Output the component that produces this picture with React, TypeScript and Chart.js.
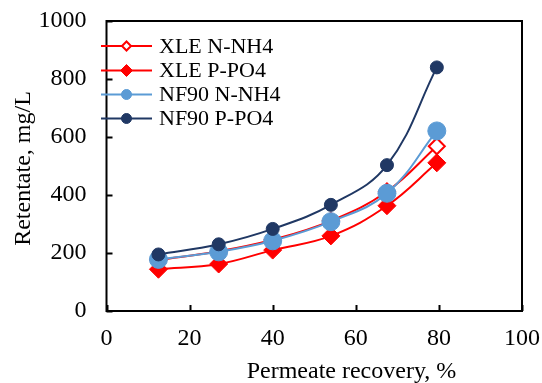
import React, { useEffect, useRef } from 'react';
import { Chart, registerables } from 'chart.js';

Chart.register(...registerables);

// ---- data ----
const recovery = [12.5, 27, 40, 54, 67.5, 79.5];
const xleNNH4 = [176, 206, 246, 311, 412, 568];
const xlePPO4 = [144, 162, 210, 259, 363, 511];
const nf90NNH4 = [178, 204, 242, 308, 406, 621];
const nf90PPO4 = [195, 230, 283, 366, 503, 840];
const seriesLabels = ['XLE N-NH4', 'XLE P-PO4', 'NF90 N-NH4', 'NF90 P-PO4'];
const xTicks = [0, 20, 40, 60, 80, 100];
const yTicks = [0, 200, 400, 600, 800, 1000];
const xTitle = 'Permeate recovery, %';
const yTitle = 'Retentate, mg/L';

const FONT = '"Liberation Serif", "Times New Roman", serif';
const RED = '#FF0000';
const LIGHT = '#5B9BD5';
const DARK = '#203864';

type Marker = { shape: 'diamond' | 'circle'; fill: string; stroke: string; r: number; lr: number; lw: number };
const markers: Marker[] = [
  { shape: 'diamond', fill: '#FFFFFF', stroke: RED, r: 8, lr: 4.5, lw: 2 },
  { shape: 'diamond', fill: RED, stroke: RED, r: 9, lr: 6, lw: 1 },
  { shape: 'circle', fill: LIGHT, stroke: LIGHT, r: 9, lr: 5, lw: 1 },
  { shape: 'circle', fill: DARK, stroke: DARK, r: 6.5, lr: 5, lw: 1 },
];
const lineColors = [RED, RED, LIGHT, DARK];

function drawMarker(ctx: CanvasRenderingContext2D, m: Marker, x: number, y: number, r: number) {
  ctx.save();
  ctx.beginPath();
  if (m.shape === 'circle') {
    ctx.arc(x, y, r, 0, Math.PI * 2);
  } else {
    ctx.moveTo(x - r, y);
    ctx.lineTo(x, y - r);
    ctx.lineTo(x + r, y);
    ctx.lineTo(x, y + r);
    ctx.closePath();
  }
  ctx.fillStyle = m.fill;
  ctx.fill();
  ctx.lineWidth = m.lw;
  ctx.strokeStyle = m.stroke;
  ctx.stroke();
  ctx.restore();
}

const framePlugin = {
  id: 'frame',
  beforeDatasetsDraw(chart: any) {
    const { ctx, chartArea } = chart;
    const { left, right, top, bottom } = chartArea;
    ctx.save();
    ctx.strokeStyle = '#000';
    ctx.lineWidth = 2;
    ctx.strokeRect(left, top, right - left, bottom - top);
    const xs = chart.scales.x;
    const ys = chart.scales.y;
    ctx.beginPath();
    xTicks.forEach((v) => {
      const px = Math.round(xs.getPixelForValue(v)) + 0.5;
      ctx.moveTo(px, bottom);
      ctx.lineTo(px, bottom - 6);
    });
    yTicks.forEach((v) => {
      const py = Math.round(ys.getPixelForValue(v)) + 0.5;
      ctx.moveTo(left, py);
      ctx.lineTo(left + 6, py);
    });
    ctx.stroke();
    ctx.restore();
  },
  afterDatasetsDraw(chart: any) {
    const { ctx } = chart;
    ctx.save();
    const rows = [46, 70.5, 94.5, 118.5];
    seriesLabels.forEach((label, i) => {
      const y = rows[i];
      ctx.beginPath();
      ctx.strokeStyle = lineColors[i];
      ctx.lineWidth = 2;
      ctx.moveTo(101, y);
      ctx.lineTo(152, y);
      ctx.stroke();
      drawMarker(ctx, markers[i], 126.5, y, markers[i].lr);
      ctx.fillStyle = '#000';
      ctx.font = `22px ${FONT}`;
      ctx.textAlign = 'left';
      ctx.textBaseline = 'middle';
      ctx.fillText(label, 159, y + 1);
    });
    ctx.restore();
  },
  afterDraw(chart: any) {
    const { ctx } = chart;
    ctx.save();
    ctx.fillStyle = '#000';
    ctx.font = `24px ${FONT}`;
    ctx.textAlign = 'center';
    ctx.textBaseline = 'alphabetic';
    ctx.fillText(xTitle, 351.5, 378);
    ctx.translate(30, 168.5);
    ctx.rotate(-Math.PI / 2);
    ctx.fillText(yTitle, 0, 0);
    ctx.restore();
  },
};

function zeroPad(s: any) {
  s.paddingTop = 0;
  s.paddingBottom = 0;
  s.paddingLeft = 0;
  s.paddingRight = 0;
}

export default function App() {
  const ref = useRef<HTMLCanvasElement>(null);
  useEffect(() => {
    if (!ref.current) return;
    const series = [xleNNH4, xlePPO4, nf90NNH4, nf90PPO4];
    const datasets = series.map((vals, i) => {
      const m = markers[i];
      return {
        label: seriesLabels[i],
        data: vals.map((v, k) => ({ x: recovery[k], y: v })),
        borderColor: lineColors[i],
        borderWidth: 2,
        backgroundColor: m.fill,
        pointBackgroundColor: m.fill,
        pointBorderColor: m.stroke,
        pointBorderWidth: m.lw,
        pointRadius: m.r,
        pointHoverRadius: m.r,
        pointStyle: m.shape === 'circle' ? 'circle' : 'rectRot',
        tension: 0.4,
        fill: false,
        order: 3 - i,
      };
    });
    const tickFont = { family: FONT, size: 24 };
    const chart = new Chart(ref.current, {
      type: 'line',
      data: { datasets } as any,
      plugins: [framePlugin],
      options: {
        animation: false,
        responsive: false,
        devicePixelRatio: 1,
        layout: { padding: { top: 21, right: 20, left: 0, bottom: 0 } },
        plugins: { legend: { display: false }, tooltip: { enabled: false } },
        scales: {
          x: {
            type: 'linear',
            min: 0,
            max: 100,
            grid: { display: false, drawTicks: false },
            border: { display: false },
            afterBuildTicks: (s: any) => { s.ticks = xTicks.map((v) => ({ value: v })); },
            afterFit: (s: any) => { s.height = 72; zeroPad(s); },
            ticks: { font: tickFont, color: '#000', padding: 13, callback: (v: any) => String(v) },
          },
          y: {
            type: 'linear',
            min: 0,
            max: 1000,
            grid: { display: false, drawTicks: false },
            border: { display: false },
            afterBuildTicks: (s: any) => { s.ticks = yTicks.map((v) => ({ value: v })); },
            afterFit: (s: any) => { s.width = 106.5; zeroPad(s); },
            ticks: { font: tickFont, color: '#000', padding: 20, callback: (v: any) => String(v) },
          },
        },
      } as any,
    });
    return () => chart.destroy();
  }, []);
  return (
    <div style={{ position: 'fixed', left: 0, top: 0, width: 542, height: 383, background: '#fff' }}>
      <canvas ref={ref} width={542} height={383} style={{ width: 542, height: 383 }} />
    </div>
  );
}
